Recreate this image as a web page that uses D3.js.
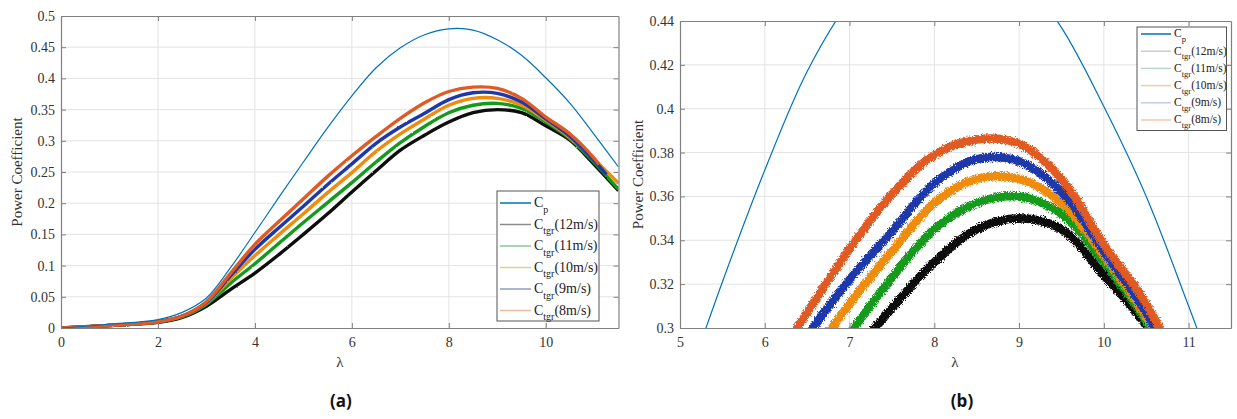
<!DOCTYPE html>
<html>
<head>
<meta charset="utf-8">
<script src="https://cdn.jsdelivr.net/npm/d3@7"></script>
<style>
  html, body { margin: 0; padding: 0; background: #fff; }
  svg { display: block; }
</style>
</head>
<body>
<svg id="chart" width="1237" height="419"></svg>
<script>
// ---------- data ----------
const lambda   = [0, 1, 2, 2.5, 3, 3.5, 4, 4.5, 5, 5.5, 6, 6.5, 7, 7.5, 8, 8.5, 9, 9.5, 10, 10.5, 11, 11.5];
const lambda8  = [0, 1, 2, 2.5, 3, 3.5, 4, 4.5, 5, 5.5, 6, 6.5, 7, 7.5, 8, 8.5, 9, 9.5, 10, 10.5, 11, 11.1];
const lambda9  = [0, 1, 2, 2.5, 3, 3.5, 4, 4.5, 5, 5.5, 6, 6.5, 7, 7.5, 8, 8.5, 9, 9.5, 10, 10.5, 11, 11.25];
const cp       = [0, 0.006, 0.0135, 0.025, 0.048, 0.097, 0.153, 0.210, 0.266, 0.321, 0.372, 0.417, 0.449, 0.470, 0.4795, 0.4775, 0.462, 0.437, 0.401, 0.360, 0.310, 0.258];
const ctgr12   = [0, 0.004, 0.009, 0.017, 0.035, 0.062, 0.088, 0.118, 0.150, 0.183, 0.218, 0.252, 0.285, 0.309, 0.330, 0.345, 0.350, 0.345, 0.324, 0.301, 0.262, 0.220];
const ctgr11   = [0, 0.004, 0.010, 0.018, 0.038, 0.072, 0.103, 0.136, 0.169, 0.201, 0.233, 0.266, 0.297, 0.323, 0.345, 0.357, 0.360, 0.352, 0.330, 0.303, 0.265, 0.222];
const ctgr10   = [0, 0.004, 0.010, 0.019, 0.040, 0.079, 0.116, 0.150, 0.183, 0.217, 0.249, 0.283, 0.311, 0.335, 0.357, 0.368, 0.368, 0.357, 0.333, 0.305, 0.270, 0.232];
const ctgr9    = [0, 0.004, 0.010, 0.019, 0.041, 0.084, 0.126, 0.161, 0.195, 0.230, 0.263, 0.296, 0.322, 0.344, 0.366, 0.377, 0.376, 0.362, 0.335, 0.307, 0.268, 0.246];
const ctgr8    = [0, 0.004, 0.010, 0.019, 0.042, 0.088, 0.134, 0.171, 0.207, 0.243, 0.276, 0.307, 0.336, 0.361, 0.379, 0.386, 0.384, 0.368, 0.338, 0.311, 0.272, 0.262];

const seriesNames = ["12m/s", "11m/s", "10m/s", "9m/s", "8m/s"];
const xTicksA = [0, 2, 4, 6, 8, 10];
const yTicksA = [0, 0.05, 0.1, 0.15, 0.2, 0.25, 0.3, 0.35, 0.4, 0.45, 0.5];
const xTicksB = [5, 6, 7, 8, 9, 10, 11];
const yTicksB = [0.3, 0.32, 0.34, 0.36, 0.38, 0.4, 0.42, 0.44];

// ---------- styling ----------
const cpColor = "#0072BD";
const bandColors = ["#0a0a0a", "#129a1c", "#ef8c10", "#1f38ab", "#e05a22"];
const legendColorsA = ["#8c8c8c", "#8cc4a0", "#e9c98c", "#8e9cc8", "#efb9a2"];
const legendColorsB = ["#cccccc", "#b9d9cb", "#f2cba4", "#c4cbe2", "#f3c6ab"];

const bands = [
  { lam: lambda,  val: ctgr12 },
  { lam: lambda,  val: ctgr11 },
  { lam: lambda,  val: ctgr10 },
  { lam: lambda9, val: ctgr9 },
  { lam: lambda8, val: ctgr8 }
];

const svg = d3.select("#chart");
const defs = svg.append("defs");
function fuzzFilter(id, freq, scale) {
  const f = defs.append("filter").attr("id", id)
    .attr("x", "-10%").attr("y", "-10%").attr("width", "120%").attr("height", "120%");
  f.append("feTurbulence").attr("type", "fractalNoise").attr("baseFrequency", freq)
    .attr("numOctaves", 1).attr("seed", 4).attr("result", "noise");
  f.append("feDisplacementMap").attr("in", "SourceGraphic").attr("in2", "noise")
    .attr("scale", scale).attr("xChannelSelector", "R").attr("yChannelSelector", "G");
}
fuzzFilter("fuzzA", "1.2", 1.8);
fuzzFilter("fuzzB", "0.9 1.2", 7);

const serif = "'Liberation Serif', 'Times New Roman', serif";
const fmt = d => d3.format("~g")(d);

function panel(opts) {
  const { id, xDom, yDom, x0, x1, y0, y1, xTicks, yTicks, bandWidth, filterId, fontSize } = opts;
  const x = d3.scaleLinear().domain(xDom).range([x0, x1]);
  const y = d3.scaleLinear().domain(yDom).range([y1, y0]);
  const g = svg.append("g");

  defs.append("clipPath").attr("id", "clip" + id)
    .append("rect").attr("x", x0).attr("y", y0).attr("width", x1 - x0).attr("height", y1 - y0);

  // grid
  g.append("g").selectAll("line").data(xTicks.filter(d => d > xDom[0] && d < xDom[1])).join("line")
    .attr("x1", d => x(d)).attr("x2", d => x(d)).attr("y1", y0).attr("y2", y1)
    .attr("stroke", "#e3e3e3").attr("stroke-width", 1);
  g.append("g").selectAll("line").data(yTicks.filter(d => d > yDom[0] && d < yDom[1])).join("line")
    .attr("y1", d => y(d)).attr("y2", d => y(d)).attr("x1", x0).attr("x2", x1)
    .attr("stroke", "#e3e3e3").attr("stroke-width", 1);

  // curves
  const plot = g.append("g").attr("clip-path", `url(#clip${id})`);
  const fuzzG = plot.append("g").attr("filter", `url(#${filterId})`);
  const line = d3.line().x(d => x(d[0])).y(d => y(d[1])).curve(d3.curveCatmullRom.alpha(0.5));
  bands.forEach((b, i) => {
    const pts = b.lam.map((l, k) => [l, b.val[k]]);
    fuzzG.append("path").attr("d", line(pts)).attr("fill", "none")
      .attr("stroke", bandColors[i]).attr("stroke-width", bandWidth)
      .attr("stroke-linecap", "butt").attr("stroke-linejoin", "round");
  });
  plot.append("path").attr("d", line(lambda.map((l, k) => [l, cp[k]])))
    .attr("fill", "none").attr("stroke", cpColor).attr("stroke-width", 1.2);

  // axes
  const axColor = "#808080";
  const bottom = g.append("g").attr("transform", `translate(0,${y1})`)
    .call(d3.axisBottom(x).tickValues(xTicks).tickSize(-5).tickSizeOuter(0).tickPadding(9).tickFormat(fmt));
  const left = g.append("g").attr("transform", `translate(${x0},0)`)
    .call(d3.axisLeft(y).tickValues(yTicks).tickSize(-5).tickSizeOuter(0).tickPadding(6).tickFormat(fmt));
  const top = g.append("g").attr("transform", `translate(0,${y0})`)
    .call(d3.axisTop(x).tickValues(xTicks).tickSize(-5).tickSizeOuter(0).tickFormat(""));
  const right = g.append("g").attr("transform", `translate(${x1},0)`)
    .call(d3.axisRight(y).tickValues(yTicks).tickSize(-5).tickSizeOuter(0).tickFormat(""));
  [bottom, left, top, right].forEach(a => {
    a.select(".domain").attr("stroke", axColor).attr("stroke-width", 1.2);
    a.selectAll(".tick line").attr("stroke", axColor);
    a.selectAll("text").attr("fill", "#333").style("font-family", serif).style("font-size", fontSize + "px");
  });

  // axis titles
  g.append("text").attr("x", opts.lamX).attr("y", 367)
    .attr("text-anchor", "middle").attr("fill", "#333")
    .style("font-family", serif).style("font-size", "15px").text("λ");
  g.append("text").attr("transform", `translate(${opts.ylabX},${(y0 + y1) / 2}) rotate(-90)`)
    .attr("text-anchor", "middle").attr("fill", "#333")
    .style("font-family", serif).style("font-size", "15px").text("Power Coefficient");
  return { x, y, g };
}

panel({ id: "A", xDom: [0, 11.5], yDom: [0, 0.5], x0: 61, x1: 618.5, y0: 16, y1: 328,
  xTicks: xTicksA, yTicks: yTicksA, bandWidth: 3.4, filterId: "fuzzA", fontSize: 14, ylabX: 22, lamX: 340 });
panel({ id: "B", xDom: [5, 11.5], yDom: [0.3, 0.44], x0: 680, x1: 1231, y0: 21, y1: 328,
  xTicks: xTicksB, yTicks: yTicksB, bandWidth: 8.5, filterId: "fuzzB", fontSize: 14, ylabX: 643, lamX: 955 });

// ---------- legends ----------
function legend(opts) {
  const { bx, by, bw, bh, step, lineX0, lineX1, fs, sub, colors } = opts;
  const lg = svg.append("g");
  lg.append("rect").attr("x", bx).attr("y", by).attr("width", bw).attr("height", bh)
    .attr("fill", "#fff").attr("stroke", "#555").attr("stroke-width", 1);
  const entries = [{ sub: "p", rest: "", color: cpColor }]
    .concat(seriesNames.map((n, i) => ({ sub: "tgr", rest: "(" + n + ")", color: colors[i] })));
  entries.forEach((e, i) => {
    const cy = by + opts.first + i * step;
    lg.append("line").attr("x1", lineX0).attr("x2", lineX1).attr("y1", cy).attr("y2", cy)
      .attr("stroke", e.color).attr("stroke-width", 1.5);
    const t = lg.append("text").attr("x", lineX1 + 3).attr("y", cy + fs * 0.3)
      .attr("fill", "#222").style("font-family", serif).style("font-size", fs + "px");
    t.append("tspan").text("C");
    t.append("tspan").attr("dy", sub * 0.55).style("font-size", sub + "px").text(e.sub);
    if (e.rest) t.append("tspan").attr("dy", -sub * 0.55).text(e.rest);
  });
}
legend({ bx: 497, by: 191, bw: 102, bh: 130, first: 12, step: 21.5, lineX0: 500, lineX1: 531, fs: 14, sub: 10, colors: legendColorsA });
legend({ bx: 1137, by: 27, bw: 89.5, bh: 103.5, first: 7, step: 17.2, lineX0: 1141, lineX1: 1171, fs: 11.5, sub: 8.5, colors: legendColorsB });

// ---------- panel captions ----------
svg.append("text").attr("x", 341).attr("y", 407).attr("text-anchor", "middle")
  .style("font-family", "'Open Sans', 'Noto Sans', sans-serif").style("font-weight", "bold")
  .style("font-size", "17px").attr("fill", "#111").text("(a)");
svg.append("text").attr("x", 962).attr("y", 407).attr("text-anchor", "middle")
  .style("font-family", "'Open Sans', 'Noto Sans', sans-serif").style("font-weight", "bold")
  .style("font-size", "17px").attr("fill", "#111").text("(b)");
</script>
</body>
</html>
